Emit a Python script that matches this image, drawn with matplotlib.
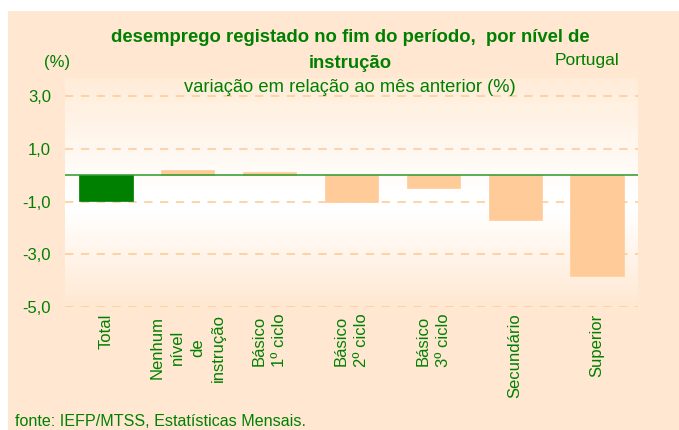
import matplotlib
matplotlib.use("Agg")
import matplotlib.pyplot as plt
import numpy as np
from matplotlib.colors import LinearSegmentedColormap
from matplotlib.patches import Rectangle

plt.rcParams['font.family'] = ['Liberation Sans', 'DejaVu Sans']

categories = ["Total", "Nenhum\nnível\nde\ninstrução", "Básico\n1º ciclo", "Básico\n2º ciclo",
              "Básico\n3º ciclo", "Secundário", "Superior"]
values = [-0.97, 0.2, 0.12, -1.02, -0.47, -1.72, -3.85]
yticks = [-5, -3, -1, 1, 3]
ytick_labels = ["-5,0", "-3,0", "-1,0", "1,0", "3,0"]

GREEN = "#008000"
PEACH = "#FFCC99"
BG = "#FFE7D2"

W, H = 679, 430
fig = plt.figure(figsize=(W / 100, H / 100), dpi=100)
fig.patch.set_facecolor("white")
fig.patches.append(Rectangle((8 / W, 0), 1 - 8 / W, (H - 11) / H, transform=fig.transFigure,
                             facecolor=BG, edgecolor="none", zorder=-10))

left, right, top, bottom = 65, 638, 78, 306.7
ax = fig.add_axes([left / W, (H - bottom) / H, (right - left) / W, (bottom - top) / H])
ax.set_zorder(1)
ax.set_xlim(-0.5, len(categories) - 0.5)
ax.set_ylim(-5, 3.7)

# gradient background of plot area
cmap = LinearSegmentedColormap.from_list("g", [(0, "#FFECD8"), (0.5, "#FFFFFF"), (0.58, "#FFFFFF"), (1, "#FFE8D2")])
grad = np.linspace(0, 1, 256).reshape(-1, 1)
ax.imshow(grad, cmap=cmap, aspect="auto", extent=[-0.5, len(categories) - 0.5, -5, 3.7],
          origin="upper", zorder=0)

for s in ax.spines.values():
    s.set_visible(False)

for y in yticks:
    ax.axhline(y, color=PEACH, lw=1.2, linestyle=(0, (5, 4.5)), zorder=1)

x = np.arange(len(categories))
colors = [GREEN] + [PEACH] * (len(categories) - 1)
ax.bar(x, values, width=0.65, color=colors, edgecolor=colors, linewidth=0.5, zorder=2)
ax.axhline(0, color="#2A9A2A", lw=1.1, zorder=3)

ax.set_yticks(yticks)
ax.set_yticklabels(ytick_labels)
ax.set_xticks(x)
ax.set_xticklabels(categories, rotation=90, va="top", ha="center", linespacing=1.45)
ax.tick_params(axis="both", length=0, colors=GREEN, labelsize=12)
ax.tick_params(axis="y", pad=10)
ax.tick_params(axis="x", pad=5)

fig.text(350 / W, 1 - 37 / H, "desemprego registado no fim do período,  por nível de", ha="center",
         va="center", color=GREEN, fontsize=13.3, fontweight="bold")
fig.text(350 / W, 1 - 63 / H, "instrução", ha="center", va="center", color=GREEN, fontsize=13.3,
         fontweight="bold")
fig.text(57 / W, 1 - 62 / H, "(%)", ha="center", va="center", color=GREEN, fontsize=12)
fig.text(555 / W, 1 - 60 / H, "Portugal", ha="left", va="center", color=GREEN, fontsize=12.5)
fig.text(350 / W, 1 - 88 / H, "variação em relação ao mês anterior (%)", ha="center", va="center",
         color=GREEN, fontsize=13.2)
fig.text(15 / W, 1 - 421 / H, "fonte: IEFP/MTSS, Estatísticas Mensais.", ha="left", va="center",
         color=GREEN, fontsize=11.6)

fig.savefig("out.png", dpi=100)
